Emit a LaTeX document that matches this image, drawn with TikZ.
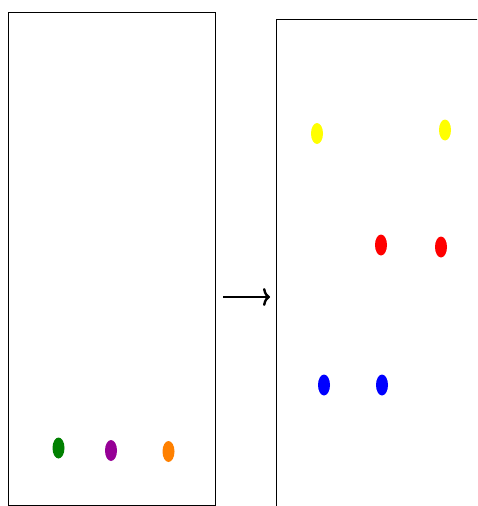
\documentclass[tikz,border=0pt]{standalone}
\usetikzlibrary{arrows.meta, shapes.geometric}
\definecolor{spotgreen}{RGB}{0,128,0}
\definecolor{spotpurple}{RGB}{150,0,150}
\definecolor{spotorange}{RGB}{255,128,0}
\definecolor{spotyellow}{RGB}{255,255,0}
\tikzset{plate/.style={draw, line width=1.2pt, anchor=north west, inner sep=0pt},
spot/.style={ellipse, fill, inner sep=0pt, minimum width=12pt, minimum height=21pt},
line/.style={-{To[length=7pt,width=18pt]}, line width=2.4pt}
}

\begin{document}
\begin{tikzpicture}[x=1pt,y=-1pt]
\useasboundingbox (0,0) rectangle (477,506);
\clip (0,0) rectangle (477,506);
\node[plate,minimum width=207pt,minimum height=493pt] (before) at (8,12) {};
\node[plate,minimum width=260pt,minimum height=560pt] (after) at (276,19) {};
% spots before
\node[spot,spotgreen] (g) at (58.5,448) {};
\node[spot,spotpurple] (p) at (111,450.5) {};
\node[spot,spotorange] (o) at (168.5,451.5) {};
% spots after
\node[spot,spotyellow] (y1) at (317,133.5) {};
\node[spot,spotyellow] (y2) at (445,130) {};
\node[spot,red] (r1) at (381,245) {};
\node[spot,red] (r2) at (441,247) {};
\node[spot,blue] (b1) at (324,385) {};
\node[spot,blue] (b2) at (382,385) {};
\coordinate (mid) at (245,297);
\draw[line,shorten <=7pt,shorten >=6pt] (before.east |- mid) -- (after.west |- mid);
\end{tikzpicture}
\end{document}
